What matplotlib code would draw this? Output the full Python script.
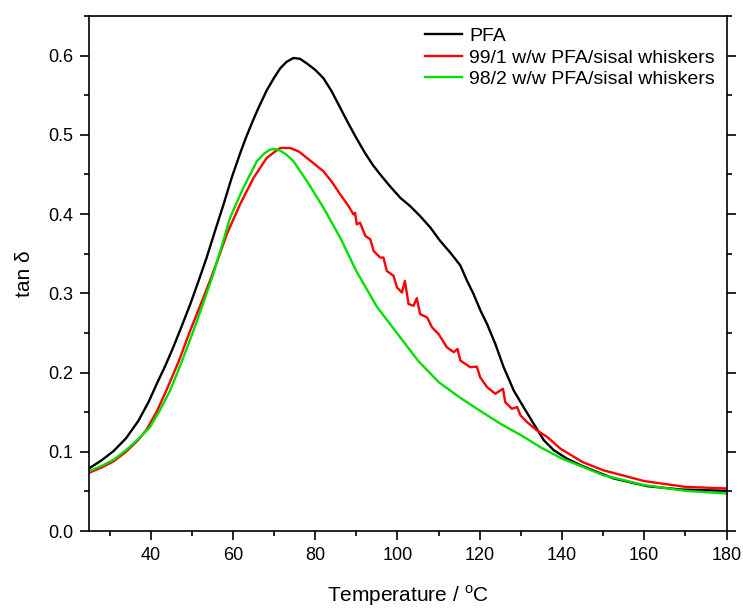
import matplotlib
matplotlib.use("Agg")
import matplotlib.pyplot as plt
from matplotlib.ticker import MultipleLocator, FormatStrFormatter

plt.rcParams['font.family'] = ['Liberation Sans', 'DejaVu Sans']
plt.rcParams['mathtext.fontset'] = 'custom'
plt.rcParams['mathtext.rm'] = 'Liberation Sans'

# PFA (black)
pfa_T = [25, 28, 31, 34, 37, 39.5, 41.5, 43.5, 45.5, 47.5, 49.6, 51.6, 53.6, 55.6,
         57.7, 59.7, 61.7, 63.2, 64.7, 66.2, 68.2, 70.0, 71.5, 73.0, 74.7, 76.3, 78.0, 80.0,
         82.0, 84.0, 86.1, 88.0, 90.0, 92.0, 94.0, 95.8,
         98.2, 100.7, 103.1, 105.5, 108.0, 110.4, 112.9, 115.3, 116.9, 118.5, 120.2,
         121.8, 123.8, 125.8, 128.3, 130.7, 133.1, 135.6, 138.0, 141.2, 144.5, 148.5,
         152.6, 160.7, 168.8, 180]
pfa_tan = [0.079, 0.089, 0.101, 0.117, 0.139, 0.163, 0.186, 0.208, 0.232, 0.258, 0.286,
           0.315, 0.345, 0.378, 0.412, 0.446, 0.476, 0.497, 0.516, 0.534, 0.556, 0.572, 0.584,
           0.592, 0.597, 0.596, 0.590, 0.582, 0.5715, 0.555, 0.534, 0.515, 0.496, 0.478,
           0.462, 0.450,
           0.435, 0.4205, 0.410, 0.3975, 0.383, 0.366, 0.351, 0.335, 0.316, 0.299, 0.278,
           0.261, 0.236, 0.207, 0.177, 0.156, 0.1355, 0.1145, 0.102, 0.0914, 0.083, 0.0746,
           0.0663, 0.0566, 0.0524, 0.0507]

# 99/1 w/w PFA/sisal whiskers (red)
r_T = [25, 28, 31, 34, 37, 39.0, 41.5, 43.9, 46.8, 49.6, 52.0, 54.4, 56.5, 58.5, 61.7,
       65.0, 68.2, 70.0, 71.5, 73.9, 76.0, 78.0, 82.0, 84.0, 86.1, 88.1, 89.3, 89.7,
       90.1, 90.9, 92.2, 93.4, 94.2, 95.8, 96.6, 97.4, 99.05, 99.9, 101.1, 101.8, 102.7,
       103.9, 104.7, 105.5, 107.2, 108.4, 110.0, 112.0, 113.7, 114.6, 115.3, 117.7, 119.3,
       120.1, 121.8, 123.8, 125.65, 126.2, 127.8, 129.1, 129.9, 131.5, 133.9, 136.4, 139.6,
       145, 150, 160, 170, 180]
r_tan = [0.0734, 0.080, 0.088, 0.100, 0.115, 0.128, 0.151, 0.1785, 0.214, 0.2528, 0.284,
         0.3157, 0.345, 0.3745, 0.412, 0.4457, 0.4708, 0.478, 0.4834, 0.4834, 0.479,
         0.4708, 0.454, 0.441, 0.4247, 0.4101, 0.3996, 0.4017,
         0.3870, 0.3891, 0.3723, 0.3682, 0.3535, 0.3451, 0.3451, 0.3283, 0.3220, 0.3073,
         0.3010, 0.3157, 0.2864, 0.2843, 0.2939, 0.2738, 0.2696, 0.2570, 0.2486, 0.2319,
         0.2256, 0.2298, 0.2151, 0.2067, 0.2075, 0.1941, 0.1815, 0.1732, 0.1795, 0.1627,
         0.1543, 0.1564, 0.1459, 0.1375, 0.1270, 0.1187, 0.1040,
         0.087, 0.0767, 0.063, 0.0557, 0.0537]

# 98/2 w/w PFA/sisal whiskers (green)
g_T = [25, 28, 31, 34, 37, 39.8, 42.2, 44.7, 47.5, 50.4, 52.8, 55.2, 57.3, 59.3, 62.5,
       65.8, 67.5, 69.0, 70.3, 71.5, 73.0, 74.7, 78.0, 82.0, 86.1, 90, 95, 100, 105,
       110, 115, 120, 125, 130, 135, 140, 145, 150, 160, 170, 180]
g_tan = [0.0755, 0.082, 0.090, 0.102, 0.116, 0.131, 0.152, 0.177, 0.213, 0.2528, 0.288,
         0.324, 0.360, 0.3954, 0.433, 0.4667, 0.476, 0.4814, 0.482, 0.480, 0.475,
         0.4667, 0.4415, 0.408, 0.370, 0.328, 0.283, 0.249, 0.215, 0.188, 0.169, 0.152,
         0.1355, 0.121, 0.105, 0.0914, 0.081, 0.0704, 0.058, 0.0507, 0.0474]

labels = ['PFA', '99/1 w/w PFA/sisal whiskers', '98/2 w/w PFA/sisal whiskers']
colors = ['#000000', '#ff0000', '#00e000']

fig = plt.figure(figsize=(7.43, 6.08), dpi=100)
ax = fig.add_axes([89/743, 77/608, (726.5-89)/743, (531-16)/608])

ax.plot(pfa_T, pfa_tan, color=colors[0], lw=1.7, label=labels[0])
ax.plot(r_T, r_tan, color=colors[1], lw=1.7, label=labels[1])
ax.plot(g_T, g_tan, color=colors[2], lw=1.7, label=labels[2])

ax.set_xlim(25, 180)
ax.set_ylim(0, 0.65)
ax.xaxis.set_major_locator(MultipleLocator(20))
ax.xaxis.set_minor_locator(MultipleLocator(10))
ax.yaxis.set_major_locator(MultipleLocator(0.1))
ax.yaxis.set_minor_locator(MultipleLocator(0.05))
ax.yaxis.set_major_formatter(FormatStrFormatter('%.1f'))
ax.tick_params(axis='both', which='major', direction='out', length=6.5, width=1.2,
               labelsize=13, pad=5)
ax.tick_params(axis='both', which='minor', direction='out', length=3.3, width=1.2)
ax.tick_params(axis='y', which='both', right=True, labelright=False)
for s in ax.spines.values():
    s.set_linewidth(1.2)

ax.set_xlabel('Temperature / $^{\\rm o}$C', fontsize=15, labelpad=14)
ax.set_ylabel('tan δ', fontsize=15, labelpad=10)

leg = ax.legend(loc='upper right', frameon=False, fontsize=14, handlelength=1.9,
                handletextpad=0.35, labelspacing=0.2, borderaxespad=0.2,
                bbox_to_anchor=(1.0, 1.0))

fig.savefig('out.png', dpi=100)
